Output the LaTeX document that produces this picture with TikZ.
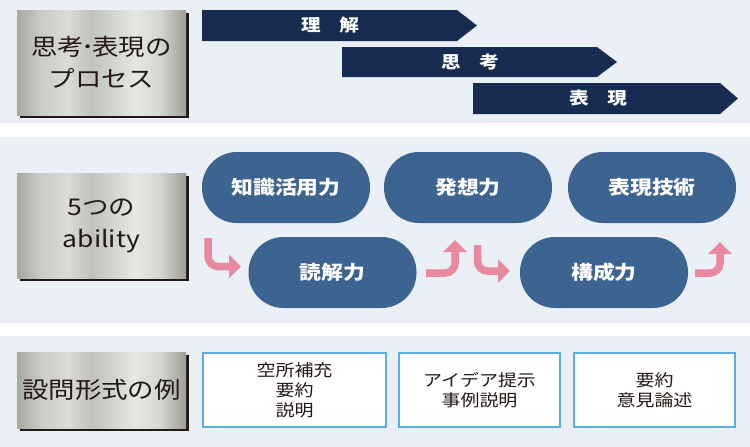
\documentclass[tikz,border=0pt]{standalone}
\usepackage{fontspec}
\newfontfamily\jp[FakeStretch=1.15]{Noto Sans CJK JP}
\usetikzlibrary{arrows.meta,shadows}

\definecolor{panelbg}{HTML}{EAF0F6}
\definecolor{navy}{HTML}{172C50}
\definecolor{pillblue}{HTML}{3D6391}
\definecolor{pinkarr}{HTML}{E9899F}
\definecolor{framblue}{HTML}{5AAEE0}
\definecolor{inkc}{HTML}{231815}
\definecolor{metalA}{HTML}{A6A79F}
\definecolor{metalB}{HTML}{CBCCC6}
\definecolor{metalC}{HTML}{DADBD5}
\definecolor{metalD}{HTML}{C0C2BB}
\definecolor{metalE}{HTML}{E5E8E3}
\definecolor{metalF}{HTML}{D5D7D1}
\definecolor{metalG}{HTML}{9D9F97}
\pgfdeclarehorizontalshading{metal}{100bp}{color(0bp)=(metalA); color(25bp)=(metalA);
  color(32bp)=(metalB); color(40bp)=(metalC); color(47bp)=(metalD);
  color(60bp)=(metalE); color(67bp)=(metalF); color(75bp)=(metalG); color(100bp)=(metalG)}

\tikzset{
  metalbox/.style={shading=metal, inner sep=0pt, outer sep=0pt, minimum width=169pt,
    general shadow={fill=inkc, shadow xshift=3pt, shadow yshift=-3pt},
    align=center, text=inkc, font=\jp\fontsize{23}{32}\selectfont},
  band/.style={fill=navy},
  bandtext/.style={text=white, font=\jp\bfseries\fontsize{17}{20}\selectfont},
  pill/.style={fill=pillblue, rounded corners=35pt, minimum width=168pt, minimum height=71pt,
    inner sep=0pt, text=white, font=\jp\bfseries\fontsize{19}{22}\selectfont},
  pinkarrow/.style={draw=pinkarr, line width=7.5pt, rounded corners=10pt,
    -{Triangle[width=23pt,length=12pt]}},
  examplebox/.style={draw=framblue, line width=2pt, fill=white, minimum height=74pt,
    inner sep=0pt, align=center, text=inkc, font=\jp\fontsize{16.5}{20}\selectfont}
}

\begin{document}
\begin{tikzpicture}[x=1pt, y=-1pt]
\useasboundingbox (0, 0) rectangle (750, 447);
\fill [panelbg] (0, 0) rectangle (750, 123);
\fill [panelbg] (0, 137) rectangle (750, 323);
\fill [panelbg] (0, 336) rectangle (750, 447);

% process row
\node [metalbox, minimum height=105pt] (process) at (101.5, 62.5) {思考\kern-0.12em･\kern-0.12em表現の\\プロセス};
\fill [band] (202, 10) -- (457, 10) -- (477, 25.5) -- (457, 41) -- (202, 41) -- cycle;
\node [bandtext] (understand) at (330, 25.5) {理\hspace{1.1em}解};
\fill [band] (342, 47) -- (597, 47) -- (617, 62) -- (597, 77) -- (342, 77) -- cycle;
\node [bandtext] (think) at (470, 62) {思\hspace{1.1em}考};
\fill [band] (473, 83) -- (720, 83) -- (738, 98.5) -- (720, 114) -- (473, 114) -- cycle;
\node [bandtext] (express) at (598, 98.5) {表\hspace{1.1em}現};

% ability row
\node [metalbox, minimum height=105pt] (ability) at (101.5, 225.5) {5つの\\ability};
\node [pill] (knowledge) at (286, 187.5) {知識活用力};
\node [pill] (reading) at (332.5, 272.5) {読解力};
\node [pill] (idea) at (468, 187.5) {発想力};
\node [pill] (skill) at (652, 187.5) {表現技術};
\node [pill] (structure) at (604, 272.5) {構成力};

\coordinate (down1) at (208, 238);
\coordinate (down1 end) at (241, 266.5);
\coordinate (up1) at (426, 273);
\coordinate (up1 end) at (455, 240);
\coordinate (down2) at (477.5, 245);
\coordinate (down2 end) at (510, 271);
\coordinate (up2) at (695, 273);
\coordinate (up2 end) at (720, 242);
\draw [pinkarrow] (down1) |- (down1 end);
\draw [pinkarrow] (up1) -| (up1 end);
\draw [pinkarrow] (down2) |- (down2 end);
\draw [pinkarrow] (up2) -| (up2 end);

% question row
\node [metalbox, minimum height=76pt] (question) at (101.5, 390) {設問形式の例};
\node [examplebox, minimum width=183pt] (blank) at (294.5, 390) {空所補充\\要約\\説明};
\node [examplebox, minimum width=161pt] (ideaeg) at (479.5, 390) {アイデア提示\\事例説明};
\node [examplebox, minimum width=161pt] (opinion) at (654.5, 390) {要約\\意見論述};
\end{tikzpicture}
\end{document}
